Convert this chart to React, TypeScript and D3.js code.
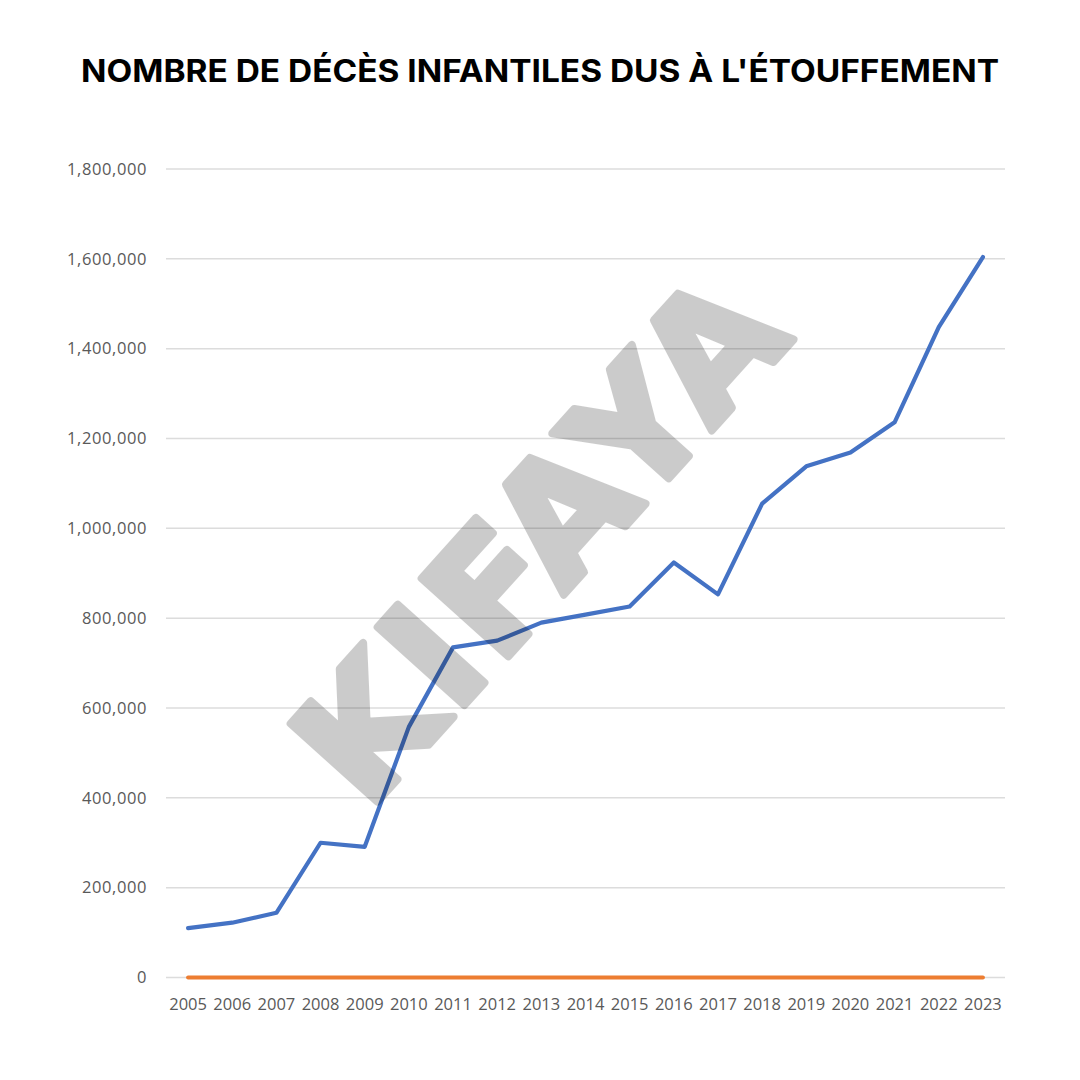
import { useEffect, useRef } from 'react';
import * as d3 from 'd3';

const years = [
	'2005', '2006', '2007', '2008', '2009', '2010', '2011', '2012', '2013', '2014',
	'2015', '2016', '2017', '2018', '2019', '2020', '2021', '2022', '2023',
];

// blue series
const deaths = [
	110000, 122000, 144000, 300000, 291000, 558000, 735000, 750000, 790000, 808000,
	826000, 924000, 853000, 1055000, 1138000, 1169000, 1236000, 1448000, 1604000,
];

// orange series (flat at zero)
const secondSeries = [0, 0, 0, 0, 0, 0, 0, 0, 0, 0, 0, 0, 0, 0, 0, 0, 0, 0, 0];

const yTicks = [0, 200000, 400000, 600000, 800000, 1000000, 1200000, 1400000, 1600000, 1800000];

const title = "NOMBRE DE DÉCÈS INFANTILES DUS À L'ÉTOUFFEMENT";
const watermark = 'KIFAYA';

const W = 1080;
const H = 1080;

export default function App() {
	const svgRef = useRef<SVGSVGElement>(null);

	useEffect(() => {
		if (!svgRef.current) return;
		const svg = d3.select(svgRef.current);
		svg.selectAll('*').remove();

		const left = 166;
		const right = 1005;
		const top = 169;
		const bottom = 977.5;

		const x = d3.scaleBand<string>().domain(years).range([left, right]);
		const y = d3.scaleLinear().domain([0, 1800000]).range([bottom, top]);
		const cx = (d: string) => (x(d) ?? 0) + x.bandwidth() / 2;

		svg.append('rect').attr('width', W).attr('height', H).attr('fill', '#ffffff');

		// title
		svg
			.append('text')
			.attr('x', W / 2)
			.attr('y', 82)
			.attr('text-anchor', 'middle')
			.attr('font-family', 'Inter, Roboto, sans-serif')
			.attr('font-weight', 700)
			.attr('font-size', 31)
			.attr('fill', '#000000')
			.attr('textLength', 918)
			.attr('lengthAdjust', 'spacingAndGlyphs')
			.text(title);

		// gridlines
		svg
			.append('g')
			.selectAll('line')
			.data(yTicks)
			.enter()
			.append('line')
			.attr('x1', left)
			.attr('x2', right)
			.attr('y1', (d) => y(d))
			.attr('y2', (d) => y(d))
			.attr('stroke', '#dcdcdc')
			.attr('stroke-width', 1.5);

		// y labels
		svg
			.append('g')
			.selectAll('text')
			.data(yTicks)
			.enter()
			.append('text')
			.attr('x', 147)
			.attr('y', (d) => y(d))
			.attr('dy', '0.35em')
			.attr('text-anchor', 'end')
			.attr('font-family', '"Open Sans", sans-serif')
			.attr('font-size', 16.5)
			.attr('letter-spacing', 0.6)
			.attr('fill', '#595959')
			.text((d) => d3.format(',')(d));

		// x labels
		svg
			.append('g')
			.selectAll('text')
			.data(years)
			.enter()
			.append('text')
			.attr('x', (d) => cx(d))
			.attr('y', 1010)
			.attr('text-anchor', 'middle')
			.attr('font-family', '"Open Sans", sans-serif')
			.attr('font-size', 16.5)
			.attr('fill', '#595959')
			.text((d) => d);

		const line = d3
			.line<number>()
			.x((_, i) => cx(years[i]))
			.y((d) => y(d));

		svg
			.append('path')
			.datum(secondSeries)
			.attr('d', line)
			.attr('fill', 'none')
			.attr('stroke', '#ED7D31')
			.attr('stroke-width', 4)
			.attr('stroke-linecap', 'round');

		svg
			.append('path')
			.datum(deaths)
			.attr('d', line)
			.attr('fill', 'none')
			.attr('stroke', '#4472C4')
			.attr('stroke-width', 4.2)
			.attr('stroke-linejoin', 'round')
			.attr('stroke-linecap', 'round');

		// watermark over the chart, group opacity so the rounded stroke doesn't double up
		svg
			.append('g')
			.attr('opacity', 0.2)
			.append('text')
			.attr('transform', 'translate(540,535) rotate(-48)')
			.attr('text-anchor', 'middle')
			.attr('dy', '0.36em')
			.attr('font-family', '"DejaVu Sans", sans-serif')
			.attr('font-weight', 700)
			.attr('font-size', 160)
			.attr('letter-spacing', 6)
			.attr('fill', '#000000')
			.attr('stroke', '#000000')
			.attr('stroke-width', 8)
			.attr('stroke-linejoin', 'round')
			.text(watermark);
	}, []);

	return (
		<div style={{ position: 'absolute', left: 0, top: 0 }}>
			<svg ref={svgRef} width={W} height={H} style={{ display: 'block' }}></svg>
		</div>
	);
}
